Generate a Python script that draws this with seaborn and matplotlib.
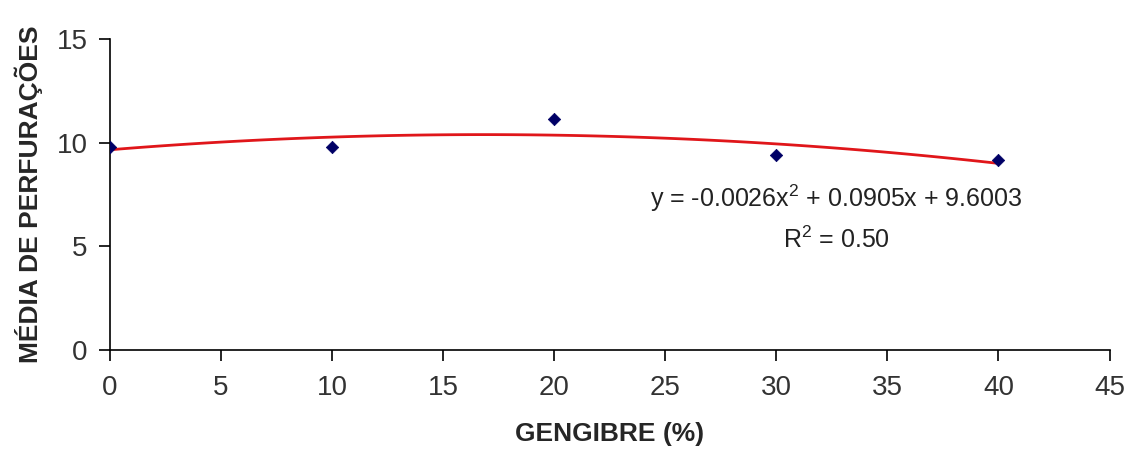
import pandas as pd
import matplotlib.pyplot as plt
import seaborn as sns

# Dati
gengibre = [0, 10, 20, 30, 40]
perfuracoes = [9.78, 9.78, 11.15, 9.4, 9.15]
equacao = "y = -0.0026x$^2$ + 0.0905x + 9.6003"
r2 = "R$^2$ = 0.50"

df = pd.DataFrame({'gengibre': gengibre, 'perfuracoes': perfuracoes})

sns.set_style("ticks")
plt.rcParams['font.family'] = ['Liberation Sans', 'DejaVu Sans']
plt.rcParams['mathtext.fontset'] = 'custom'
plt.rcParams['mathtext.rm'] = 'Liberation Sans'

fig = plt.figure(figsize=(11.31, 4.5), dpi=100)
ax = fig.add_axes([0.097, 0.222, 0.884, 0.691])

# Linha de tendência polinomial (ordem 2)
sns.regplot(data=df, x='gengibre', y='perfuracoes', order=2, ci=None,
            scatter=False, color='#e0161a', line_kws={'linewidth': 2}, ax=ax)
sns.scatterplot(data=df, x='gengibre', y='perfuracoes', marker='D', s=40,
                color='#000066', edgecolor='#000066', zorder=3, ax=ax)

ax.set_xlim(0, 45)
ax.set_ylim(0, 15)
ax.set_xticks(range(0, 50, 5))
ax.set_yticks([0, 5, 10, 15])
ax.tick_params(axis='both', labelsize=20, colors='black', labelcolor='#333333',
               length=8, width=1.2, direction='out')
ax.tick_params(axis='x', pad=10)
ax.tick_params(axis='y', pad=8)

for s in ['top', 'right']:
    ax.spines[s].set_visible(False)
for s in ['left', 'bottom']:
    ax.spines[s].set_color('black')
    ax.spines[s].set_linewidth(1.2)

ax.set_xlabel('GENGIBRE (%)', fontsize=19, fontweight='bold', labelpad=15)
ax.set_ylabel('MÉDIA DE PERFURAÇÕES', fontsize=19, fontweight='bold', labelpad=10)

ax.text(32.7, 7.3, equacao, fontsize=18, ha='center', va='center', color='#222222')
ax.text(32.7, 5.3, r2, fontsize=18, ha='center', va='center', color='#222222')

plt.savefig('out.png', dpi=100, facecolor='white')
plt.close()
